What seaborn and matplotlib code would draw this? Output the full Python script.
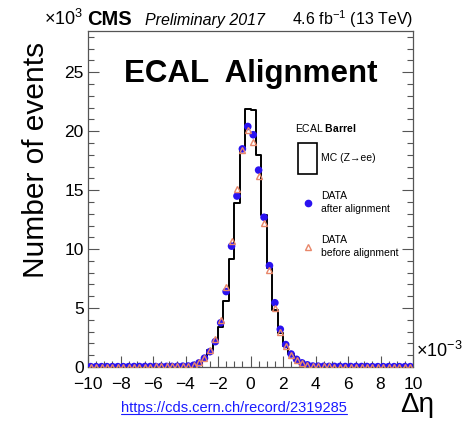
import numpy as np
import pandas as pd
import matplotlib
matplotlib.use("Agg")
import matplotlib.pyplot as plt
import seaborn as sns
from matplotlib.patches import Rectangle
from matplotlib.lines import Line2D

# ---------------- data (thousands of events per bin) ----------------
edges = np.linspace(-10, 10, 61)
centers = 0.5 * (edges[:-1] + edges[1:])

left_tail_mc = [0.02, 0.02, 0.02, 0.02, 0.02, 0.02, 0.02, 0.02, 0.03,
                0.03, 0.03, 0.03, 0.03, 0.04, 0.04, 0.04, 0.05, 0.06]
core_mc = [0.07, 0.15, 0.35, 0.7, 1.4, 2.1, 3.4, 5.6, 9.2, 13.9, 18.6, 21.9,
           21.8, 18.0, 12.9, 8.4, 4.8, 2.9, 1.8, 1.1, 0.65, 0.35, 0.18, 0.08]
right_tail_mc = [0.06, 0.05, 0.04, 0.04, 0.04, 0.03, 0.03, 0.03, 0.03,
                 0.03, 0.02, 0.02, 0.02, 0.02, 0.02, 0.02, 0.02, 0.02]
mc = left_tail_mc + core_mc + right_tail_mc

left_tail_after = [0.03, 0.03, 0.03, 0.03, 0.03, 0.03, 0.03, 0.03, 0.04,
                   0.04, 0.04, 0.04, 0.04, 0.05, 0.05, 0.05, 0.06, 0.07]
core_after = [0.08, 0.15, 0.35, 0.75, 1.3, 2.15, 3.75, 6.4, 10.25, 14.5, 18.5, 20.4,
              19.7, 16.7, 12.7, 8.6, 5.45, 3.2, 1.9, 1.1, 0.65, 0.35, 0.18, 0.08]
right_tail_after = [0.07, 0.06, 0.05, 0.05, 0.05, 0.04, 0.04, 0.04, 0.04,
                    0.04, 0.03, 0.03, 0.03, 0.03, 0.03, 0.03, 0.03, 0.03]
data_after = left_tail_after + core_after + right_tail_after

left_tail_before = [0.03, 0.03, 0.03, 0.03, 0.03, 0.03, 0.03, 0.03, 0.04,
                    0.04, 0.04, 0.04, 0.05, 0.05, 0.05, 0.06, 0.07, 0.08]
core_before = [0.09, 0.18, 0.4, 0.8, 1.45, 2.4, 4.0, 6.8, 10.7, 15.1, 18.4, 20.1,
               19.1, 16.2, 12.2, 8.2, 5.0, 3.0, 1.75, 1.0, 0.6, 0.3, 0.15, 0.07]
right_tail_before = [0.06, 0.05, 0.05, 0.04, 0.04, 0.04, 0.04, 0.03, 0.03,
                     0.03, 0.03, 0.03, 0.03, 0.03, 0.03, 0.03, 0.03, 0.03]
data_before = left_tail_before + core_before + right_tail_before

xticks = [-10, -8, -6, -4, -2, 0, 2, 4, 6, 8, 10]
yticks = [0, 5, 10, 15, 20, 25]

df = pd.DataFrame({"deta": centers, "mc": mc,
                   "after": data_after, "before": data_before})

# ---------------- style ----------------
sns.set_style("white")
plt.rcParams["font.family"] = ["Liberation Sans", "DejaVu Sans"]
plt.rcParams["mathtext.fontset"] = "custom"
plt.rcParams["mathtext.rm"] = "Liberation Sans"
plt.rcParams["mathtext.it"] = "Liberation Sans:italic"
plt.rcParams["mathtext.bf"] = "Liberation Sans:bold"
plt.rcParams["text.color"] = "black"
plt.rcParams["xtick.labelcolor"] = "black"
plt.rcParams["ytick.labelcolor"] = "black"

W, H = 476, 421
fig = plt.figure(figsize=(W / 100, H / 100), dpi=100)
ax = fig.add_axes([88 / W, 1 - 367 / H, (413 - 88) / W, (367 - 31) / H])

def fx(px):
    return px / W

def fy(py):
    return 1 - py / H

# MC histogram
sns.histplot(data=df, x="deta", weights="mc", bins=60, binrange=(-10, 10),
             element="step", fill=False, color="black", linewidth=1.4, ax=ax)
# Data after alignment
sns.scatterplot(data=df, x="deta", y="after", ax=ax, marker="o", s=30,
                color="#2a12f0", edgecolor="none", zorder=3)
# Data before alignment
ax.plot(df["deta"], df["before"], linestyle="none", marker="^", markersize=5,
        markerfacecolor="none", markeredgecolor="#e8876a", markeredgewidth=1.0,
        zorder=4)

ax.set_xlim(-10, 10)
ax.set_ylim(0, 28.5)
ax.set_xticks(xticks)
ax.set_xticklabels([str(t).replace("-", "\u2212") for t in xticks],
                   fontsize=12.5, color="black")
ax.set_yticks(yticks)
ax.set_yticklabels([str(t) for t in yticks], fontsize=12.5, color="black")
ax.set_xticks(np.arange(-10, 10.01, 0.5), minor=True)
ax.set_yticks(np.arange(0, 28.5, 1), minor=True)
ax.tick_params(axis="both", which="major", direction="in", length=8, width=0.8,
               color="#555555")
ax.tick_params(axis="both", which="minor", direction="in", length=4, width=0.8,
               color="#555555")
ax.tick_params(axis="x", which="major", pad=7)
ax.tick_params(axis="y", which="major", pad=3)
ax.tick_params(axis="y", which="both", left=True, right=True)
ax.tick_params(axis="x", which="both", bottom=True, top=False)
ax.set_xlabel("")
ax.set_ylabel("")
for sp in ax.spines.values():
    sp.set_color("#555555")
    sp.set_linewidth(0.9)

# axis titles
fig.text(fx(36), fy(160), "Number of events", rotation=90, fontsize=21.5,
         ha="center", va="center")
fig.text(fx(417), fy(405), "\u0394\u03b7", fontsize=20, ha="center", va="center")
fig.text(fx(416), fy(351), r"$\times$10$^{-3}$", fontsize=13, ha="left",
         va="center")

# header
fig.text(fx(44), fy(25), r"$\times$10$^{3}$", fontsize=13, ha="left",
         va="baseline")
fig.text(fx(87), fy(25), "CMS", fontsize=14.5, fontweight="bold", ha="left",
         va="baseline")
fig.text(fx(145), fy(25), "Preliminary 2017", fontsize=11.5, style="italic",
         ha="left", va="baseline")
fig.text(fx(413), fy(25), r"4.6 fb$^{-1}$ (13 TeV)", fontsize=11.5, ha="right",
         va="baseline")

fig.text(fx(251), fy(82), "ECAL  Alignment", fontsize=22.5, fontweight="bold",
         ha="center", va="baseline")

# legend
fig.text(fx(295), fy(128), r"ECAL $\mathbf{Barrel}$", fontsize=7.5,
         ha="left", va="center")
fig.add_artist(Rectangle((fx(298), fy(174)), (317 - 298) / W, (174 - 143) / H,
                         transform=fig.transFigure, fill=False,
                         edgecolor="black", linewidth=1.2))
fig.text(fx(321), fy(158), "MC (Z\u2192ee)", fontsize=7.5, ha="left",
         va="center")
fig.add_artist(Line2D([fx(308)], [fy(203)], transform=fig.transFigure,
                      marker="o", markersize=4.5, color="#2a12f0",
                      linestyle="none"))
fig.text(fx(321), fy(196), "DATA", fontsize=7.5, ha="left", va="center")
fig.text(fx(321), fy(209), "after alignment", fontsize=7.5, ha="left",
         va="center")
fig.add_artist(Line2D([fx(308)], [fy(247)], transform=fig.transFigure,
                      marker="^", markersize=4.5, markerfacecolor="none",
                      markeredgecolor="#e8876a", linestyle="none"))
fig.text(fx(321), fy(240), "DATA", fontsize=7.5, ha="left", va="center")
fig.text(fx(321), fy(253), "before alignment", fontsize=7.5, ha="left",
         va="center")

# source link
url = fig.text(fx(234), fy(408), "https://cds.cern.ch/record/2319285",
               fontsize=10.5, color="#1a1aff", ha="center", va="center")
fig.canvas.draw()
bb = url.get_window_extent()
inv = fig.transFigure.inverted()
(x0, y0), (x1, y1) = inv.transform([(bb.x0, bb.y0), (bb.x1, bb.y1)])
fig.add_artist(Line2D([x0, x1], [y0 + 0.002, y0 + 0.002],
                      transform=fig.transFigure, color="#1a1aff",
                      linewidth=0.8))

fig.savefig("out.png", dpi=100)
